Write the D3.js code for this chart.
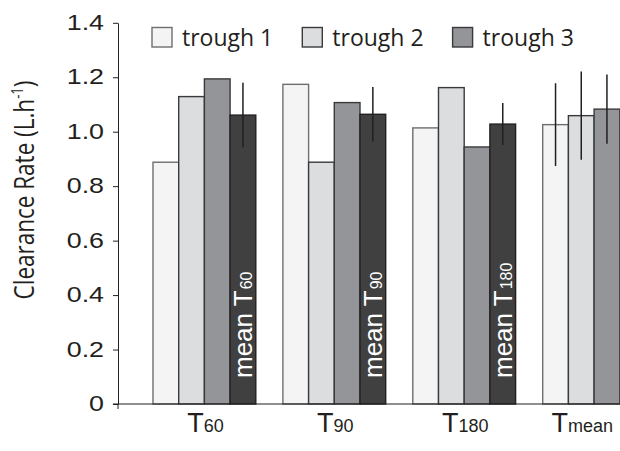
<!DOCTYPE html>
<html><head><meta charset="utf-8">
<script src="https://cdn.jsdelivr.net/npm/d3@7"></script>
<style>body{margin:0;background:#fff}svg{display:block}</style>
</head><body><svg id="c" width="620" height="451"></svg>
<script>
// ---- data ----
const groups = ["T60", "T90", "T180", "Tmean"];
const groupMain = ["T", "T", "T", "T"];
const groupSub = ["60", "90", "180", "mean"];
const series = ["trough 1", "trough 2", "trough 3", "mean"];
const legendSeries = ["trough 1", "trough 2", "trough 3"];
const trough1 = [0.888, 1.174, 1.014, 1.026];
const trough2 = [1.129, 0.888, 1.162, 1.059];
const trough3 = [1.194, 1.107, 0.944, 1.083];
const meanT = [1.061, 1.064, 1.028, null];
const trough1Err = [null, null, null, 0.152];
const trough2Err = [null, null, null, 0.162];
const trough3Err = [null, null, null, 0.127];
const meanTErr = [0.119, 0.100, 0.077, null];
const yTicks = [0, 0.2, 0.4, 0.6, 0.8, 1.0, 1.2, 1.4];
const yTickLabels = ["0", "0.2", "0.4", "0.6", "0.8", "1.0", "1.2", "1.4"];
const yTitle = "Clearance Rate (L.h";
const yTitleSup = "-1";
const meanLabel = "mean T";

const values = [trough1, trough2, trough3, meanT];
const errs = [trough1Err, trough2Err, trough3Err, meanTErr];
const fills = ["#f4f4f5", "#dcdddf", "#939598", "#404041"];
const strokes = ["#6d6e71", "#3a3a3c", "#3a3a3c", "#231f20"];

const svg = d3.select("#c");
const y = d3.scaleLinear().domain([0, 1.4]).range([404, 22.8]);
const x = d3.scaleBand().domain(groups).range([153, 645.5]).paddingInner(0.2086).paddingOuter(0);
const xi = d3.scaleBand().domain(series).range([0, x.bandwidth()]);

const rows = [];
groups.forEach((g, gi) => series.forEach((s, si) => {
  const v = values[si][gi];
  if (v != null) rows.push({g, gi, s, si, v, e: errs[si][gi]});
}));

// bars
svg.append("g").selectAll("rect").data(rows).join("rect")
  .attr("x", d => x(d.g) + xi(d.s))
  .attr("y", d => y(d.v))
  .attr("width", xi.bandwidth())
  .attr("height", d => y(0) - y(d.v))
  .attr("fill", d => fills[d.si])
  .attr("stroke", d => strokes[d.si])
  .attr("stroke-width", 1.4);

// error bars
svg.append("g").selectAll("line").data(rows.filter(d => d.e != null)).join("line")
  .attr("x1", d => x(d.g) + xi(d.s) + xi.bandwidth() / 2)
  .attr("x2", d => x(d.g) + xi(d.s) + xi.bandwidth() / 2)
  .attr("y1", d => y(d.v + d.e))
  .attr("y2", d => y(d.v - d.e))
  .attr("stroke", "#231f20")
  .attr("stroke-width", 1.5);

// in-bar labels for mean bars
const meanRows = rows.filter(d => d.s === "mean");
meanRows.forEach(d => {
  const cx = x(d.g) + xi(d.s) + xi.bandwidth() / 2 + 9;
  const t = svg.append("text")
    .attr("transform", `translate(${cx},${y(0) - 26}) rotate(-90)`)
    .attr("font-family", "Liberation Sans, Arial, sans-serif")
    .attr("font-size", 26)
    .attr("fill", "#ffffff");
  t.append("tspan").text(meanLabel);
  t.append("tspan").attr("font-size", 16).attr("dx", 1).text(groupSub[d.gi]);
});

// y axis
const yAxis = svg.append("g").attr("transform", "translate(118,0)")
  .call(d3.axisLeft(y).tickValues(yTicks).tickFormat((d, i) => yTickLabels[i]).tickSize(5).tickSizeOuter(0).tickPadding(9));
yAxis.select(".domain").attr("stroke", "#231f20");
yAxis.selectAll(".tick line").attr("stroke", "#231f20");
const sx = 1.22;
yAxis.selectAll(".tick text")
  .attr("font-family", "Liberation Sans, Arial, sans-serif")
  .attr("font-size", 22).attr("fill", "#231f20")
  .attr("x", -14 / sx).attr("dy", "0.3em")
  .attr("transform", `scale(${sx},1)`);
svg.append("line").attr("x1", 118).attr("x2", 118).attr("y1", y(0)).attr("y2", y(0) + 5).attr("stroke", "#231f20");

// x axis line
svg.append("line").attr("x1", 113).attr("x2", 620).attr("y1", y(0)).attr("y2", y(0)).attr("stroke", "#231f20").attr("stroke-width", 1.2);

// x labels centered on drawn bars
groups.forEach((g, gi) => {
  const gr = rows.filter(d => d.gi === gi);
  const cx = d3.mean(gr, d => x(d.g) + xi(d.s) + xi.bandwidth() / 2) + 1;
  const t = svg.append("text")
    .attr("x", cx).attr("y", 431.5)
    .attr("text-anchor", "middle")
    .attr("font-family", "Liberation Sans, Arial, sans-serif")
    .attr("fill", "#231f20");
  t.append("tspan").attr("font-size", 27).text(groupMain[gi]);
  t.append("tspan").attr("font-size", 18).text(groupSub[gi]);
});

// y title
const yt = svg.append("text")
  .attr("transform", "translate(34,190) rotate(-90) scale(1,1.22)")
  .attr("text-anchor", "middle")
  .attr("font-family", "Open Sans, sans-serif")
  .attr("font-size", 22.5)
  .attr("fill", "#231f20");
yt.append("tspan").text(yTitle);
yt.append("tspan").attr("font-size", 13).attr("dy", -9).text(yTitleSup);
yt.append("tspan").attr("dy", 9).text(")");

// legend
const lg = svg.append("g").selectAll("g").data(legendSeries).join("g")
  .attr("transform", (d, i) => `translate(${152 + i * 150.3},27.5)`);
lg.append("rect").attr("width", 20).attr("height", 19.5)
  .attr("fill", (d, i) => fills[i]).attr("stroke", (d, i) => strokes[i]).attr("stroke-width", 1.4);
lg.append("text").attr("x", 30).attr("y", 18.5)
  .attr("font-family", "Open Sans, sans-serif").attr("font-size", 23).attr("fill", "#231f20")
  .text(d => d);
</script></body></html>
